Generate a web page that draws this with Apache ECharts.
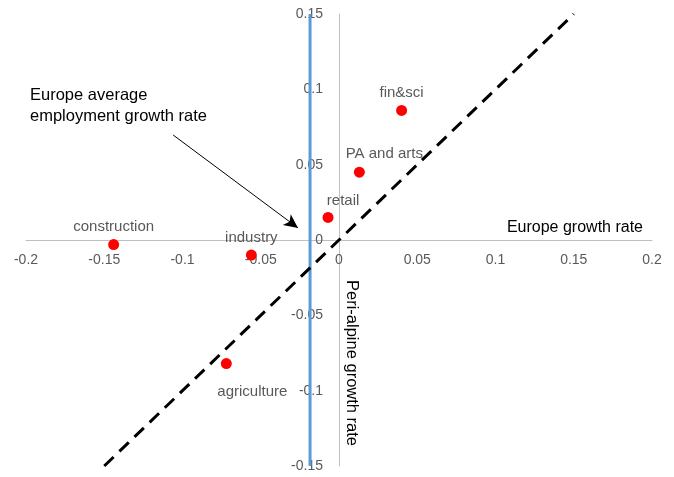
<!DOCTYPE html>
<html>
<head>
<meta charset="utf-8">
<script src="https://cdn.jsdelivr.net/npm/echarts@6/dist/echarts.min.js"></script>
<style>
html,body{margin:0;padding:0;background:#fff;}
#c{width:674px;height:477px;}
</style>
</head>
<body>
<div id="c"></div>
<script>
const sectors = ['construction','industry','agriculture','retail','PA and arts','fin&sci'];
const europeGrowth = [-0.144,-0.056,-0.072,-0.007,0.013,0.040];
const periAlpineGrowth = [-0.003,-0.010,-0.082,0.015,0.045,0.086];
const europeAverage = -0.0185;
const diagonal = [[-0.15,-0.15],[0.15,0.15]];
const arrowFrom = [-0.106, 0.0697];
const arrowTo = [-0.0262, 0.008];
const xTicks = {min:-0.2, max:0.2, interval:0.05};
const yTicks = {min:-0.15, max:0.15, interval:0.05};

const FONT = '"Liberation Sans", Arial, sans-serif';
const labelOffsets = [[0,0],[0,1],[26,10],[15,1],[25,0],[0,0]];
const labelPositions = ['top','top','bottom','top','top','top'];

const W = 674, H = 477;
const grid = {left:26, right:22, top:14, bottom:11};
const plotW = W - grid.left - grid.right, plotH = H - grid.top - grid.bottom;
// pixel distance from grid edges to the zero lines (styling offsets)
const xAxisOffset = -plotH * (0 - yTicks.min) / (yTicks.max - yTicks.min);
const yAxisOffset = -plotW * (0 - xTicks.min) / (xTicks.max - xTicks.min);

const chart = echarts.init(document.getElementById('c'));
const fmt = v => {
  if (Math.abs(v) < 1e-9) return '0';
  return String(Math.round(v*1000)/1000);
};
chart.setOption({
  animation:false,
  textStyle:{fontFamily:FONT},
  grid:Object.assign({containLabel:false, outerBoundsMode:'none'}, grid),
  xAxis:{type:'value',min:xTicks.min,max:xTicks.max,interval:xTicks.interval,
    position:'bottom',offset:xAxisOffset,
    axisLine:{onZero:false,lineStyle:{color:'#bfbfbf',width:1}},
    axisTick:{show:false},splitLine:{show:false},
    axisLabel:{color:'#595959',fontSize:14,margin:13,fontFamily:FONT,formatter:fmt,showMinLabel:true,showMaxLabel:true,hideOverlap:false},
    name:'Europe growth rate',nameLocation:'end',nameGap:-9,
    nameTextStyle:{color:'#000',fontSize:16,align:'right',verticalAlign:'bottom',padding:[0,0,4,0],fontFamily:FONT}
  },
  yAxis:{type:'value',min:yTicks.min,max:yTicks.max,interval:yTicks.interval,
    position:'left',offset:yAxisOffset,
    axisLine:{onZero:false,lineStyle:{color:'#bfbfbf',width:1}},
    axisTick:{show:false},splitLine:{show:false},
    axisLabel:{color:'#595959',fontSize:14,margin:16,fontFamily:FONT,formatter:fmt,showMinLabel:true,showMaxLabel:true,hideOverlap:false}
  },
  series:[
    {type:'line',data:[[europeAverage,yTicks.min],[europeAverage,yTicks.max]],symbol:'none',
      lineStyle:{color:'#5B9BD5',width:3},z:3,silent:true},
    {type:'line',data:diagonal,symbol:'none',
      lineStyle:{color:'#000',width:3,type:[13,8]},z:4,silent:true,
      markLine:{silent:true,symbol:['none','arrow'],symbolSize:[10,14],
        lineStyle:{color:'#000',width:1,type:'solid'},label:{show:false},
        data:[[{coord:arrowFrom},{coord:arrowTo}]]}},
    {type:'scatter',symbolSize:11,itemStyle:{color:'#ff0000',opacity:1},z:5,
      data:sectors.map((s,i)=>({value:[europeGrowth[i],periAlpineGrowth[i]],name:s,
        label:{show:true,position:labelPositions[i],offset:labelOffsets[i],formatter:s,
          color:'#595959',fontSize:15,fontFamily:FONT}}))}
  ],
  graphic:[
    {type:'text',left:30,top:85,style:{text:'Europe average\nemployment growth rate',fill:'#000',font:'16.5px '+FONT,lineHeight:21}},
    {type:'text',x:352,y:363,rotation:-Math.PI/2,style:{text:'Peri-alpine growth rate',fill:'#000',font:'16.5px '+FONT,align:'center',verticalAlign:'middle'}}
  ]
});
</script>
</body>
</html>
